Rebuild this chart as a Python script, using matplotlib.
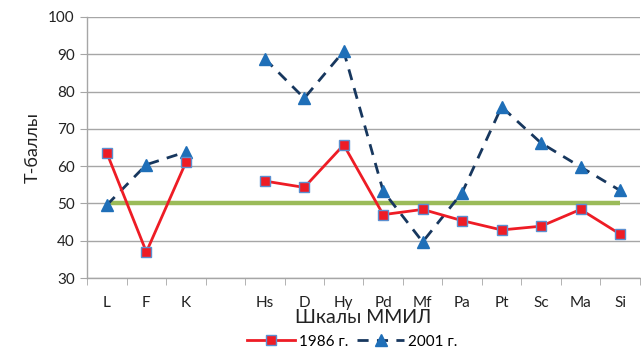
import numpy as np
import matplotlib
matplotlib.use("Agg")
import matplotlib.pyplot as plt

plt.rcParams['font.family'] = ['Lato', 'DejaVu Sans']

scales = ["L", "F", "K", "", "Hs", "D", "Hy", "Pd", "Mf", "Pa", "Pt", "Sc", "Ma", "Si"]
t1986 = [63.5, 37, 61, np.nan, 56, 54.3, 65.7, 47, 48.4, 45.4, 42.9, 43.9, 48.4, 41.8]
t2001 = [49.6, 60.4, 63.8, np.nan, 88.8, 78.2, 90.8, 53.3, 39.7, 52.9, 75.9, 66.2, 59.8, 53.5]
norm = [50] * len(scales)

fig = plt.figure(figsize=(6.41, 3.52), dpi=100)
ax = fig.add_axes([0.136, 0.21, 0.862, 0.742])

x = np.arange(len(scales))
grid_c = "#a6a6a6"
ax.set_ylim(30, 100)
ax.set_xlim(-0.5, len(scales) - 0.5)
ax.set_yticks(range(30, 101, 10))
ax.yaxis.grid(True, color=grid_c, linewidth=1)
ax.set_axisbelow(True)

ax.plot(x, norm, color="#9bbb59", linewidth=3.2, solid_capstyle="butt", zorder=2)
ax.plot(x, t2001, color="#17375e", linewidth=2, linestyle=(0, (4, 3)),
        marker="^", markersize=9, markerfacecolor="#1f6fb8", markeredgecolor="#1f6fb8",
        label="2001 г.", zorder=3)
ax.plot(x, t1986, color="#ee1c25", linewidth=2,
        marker="s", markersize=7, markerfacecolor="#ee1c25", markeredgecolor="#5b8fd0",
        markeredgewidth=1, label="1986 г.", zorder=4)

ax.set_xticks(x)
ax.set_xticklabels(scales)
ax.set_xticks(np.arange(-0.5, len(scales), 1), minor=True)
ax.tick_params(axis="x", which="major", length=0, pad=13, labelsize=11, colors="#222222")
ax.tick_params(axis="x", which="minor", length=5, color=grid_c)
ax.tick_params(axis="y", length=5, color=grid_c, labelsize=11, labelcolor="#222222", pad=4)

for s in ["top", "right"]:
    ax.spines[s].set_visible(False)
for s in ["left", "bottom"]:
    ax.spines[s].set_color(grid_c)
    ax.spines[s].set_linewidth(1)

ax.set_ylabel("Т-баллы", fontsize=13, color="#222222", labelpad=5)
ax.set_xlabel("Шкалы ММИЛ", fontsize=14, color="#222222", labelpad=-1)

h, l = ax.get_legend_handles_labels()
fig.legend([h[1], h[0]], [l[1], l[0]], loc="lower center", bbox_to_anchor=(0.55, -0.03),
           ncol=2, frameon=False, fontsize=11, handlelength=3.1, columnspacing=0.6,
           handletextpad=0.25)

fig.savefig("out.png", dpi=100)
